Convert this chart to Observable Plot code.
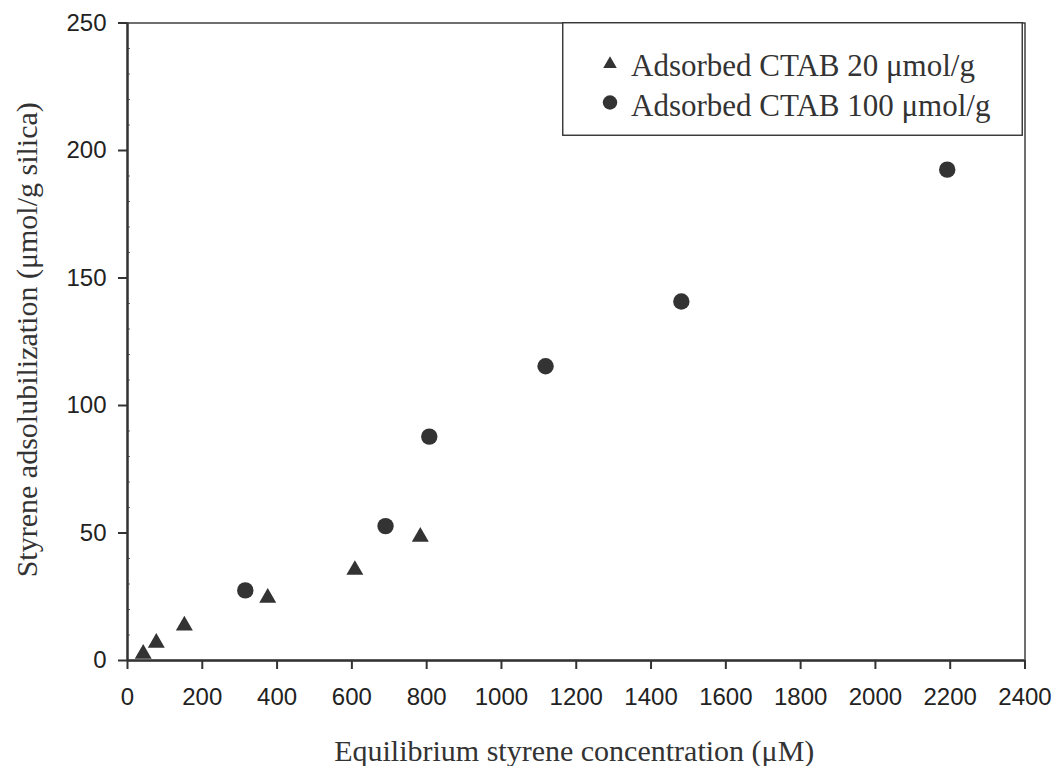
<!DOCTYPE html>
<html><head><meta charset="utf-8">
<script src="https://cdn.jsdelivr.net/npm/d3@7"></script>
<script src="https://cdn.jsdelivr.net/npm/@observablehq/plot@0.6"></script>
<style>
html,body{margin:0;padding:0;background:#fff;}
#wrap{position:relative;width:1053px;height:766px;}
#legend{position:absolute;left:562px;top:22px;}
</style></head><body><div id="wrap"></div>
<script>
// ---- data ----
const xTicks = [0, 200, 400, 600, 800, 1000, 1200, 1400, 1600, 1800, 2000, 2200, 2400];
const yTicks = [0, 50, 100, 150, 200, 250];
const yMinor = [10, 20, 30, 40, 60, 70, 80, 90, 110, 120, 130, 140, 160, 170, 180, 190, 210, 220, 230, 240];
const seriesNames = ["Adsorbed CTAB 20 \u03bcmol/g", "Adsorbed CTAB 100 \u03bcmol/g"];
const ctab20X = [42, 77, 152, 375, 608, 783];
const ctab20Y = [2.6, 6.9, 13.7, 24.6, 35.5, 48.5];
const ctab100X = [315, 690, 807, 1118, 1481, 2192];
const ctab100Y = [27.5, 52.7, 87.8, 115.4, 140.8, 192.5];
const xLabel = "Equilibrium styrene concentration (\u03bcM)";
const yLabel = "Styrene adsolubilization (\u03bcmol/g silica)";

const ink = "#333";
const serif = "Liberation Serif, Times New Roman, serif";
const sans = "Liberation Sans, Arial, sans-serif";

const s20 = ctab20X.map((x, i) => ({x, y: ctab20Y[i]}));
const s100 = ctab100X.map((x, i) => ({x, y: ctab100Y[i]}));
const fmt = d3.format("d");

const chart = Plot.plot({
  width: 1053,
  height: 766,
  marginLeft: 127,
  marginRight: 28.5,
  marginTop: 22.5,
  marginBottom: 106,
  style: {fontFamily: sans, fontSize: "24px", color: "#222", background: "#fff"},
  x: {domain: [0, 2400]},
  y: {domain: [0, 250]},
  marks: [
    Plot.frame({stroke: ink, strokeWidth: 1.4}),
    Plot.axisX({ticks: xTicks, tickFormat: fmt, tickSize: 9, tickPadding: 18, strokeWidth: 2, stroke: ink, label: null, fill: "#222", fontSize: 24, fontFamily: sans}),
    Plot.axisY({ticks: yTicks, tickFormat: fmt, tickSize: 9, tickPadding: 12, strokeWidth: 2, stroke: ink, label: null, fill: "#222", fontSize: 24, fontFamily: sans}),
    Plot.axisY({ticks: yMinor, tickSize: 3, dx: 3, tickFormat: () => "", strokeWidth: 1, stroke: "#666", label: null}),
    Plot.ruleX([0], {stroke: ink, strokeWidth: 2.4}),
    Plot.ruleY([0], {stroke: ink, strokeWidth: 2.4}),
    Plot.dot(s20, {x: "x", y: "y", symbol: "triangle", r: 6.3, fill: ink, stroke: "none"}),
    Plot.dot(s100, {x: "x", y: "y", symbol: "circle", r: 8.2, fill: ink, stroke: "none"}),
    Plot.text([xLabel], {text: d => d, frameAnchor: "bottom", textAnchor: "middle", dy: 91, dx: -2, lineAnchor: "middle", fontFamily: serif, fontSize: 30, fill: ink}),
    Plot.text([yLabel], {text: d => d, frameAnchor: "left", textAnchor: "middle", rotate: -90, dx: -100, dy: -2, lineAnchor: "middle", fontFamily: serif, fontSize: 30, fill: ink})
  ]
});
document.getElementById("wrap").appendChild(chart);

// ---- legend (overlay inside plot area, top-right) ----
const lw = 461, lh = 114;
const leg = d3.select("#wrap").append("svg")
  .attr("id", "legend").attr("width", lw).attr("height", lh);
leg.append("rect").attr("x", 0.75).attr("y", 0.75).attr("width", lw - 1.5).attr("height", lh - 1.5)
  .attr("fill", "#fff").attr("stroke", ink).attr("stroke-width", 1.4);
const symbols = [d3.symbolTriangle, d3.symbolCircle];
const symSizes = [80, 165];
const rowY = [40.5, 80.5];
seriesNames.forEach((name, i) => {
  leg.append("path").attr("d", d3.symbol(symbols[i], symSizes[i])())
    .attr("transform", `translate(48,${rowY[i] + (i === 0 ? 1.5 : 0)})`).attr("fill", ink);
  leg.append("text").attr("x", 69).attr("y", rowY[i] + 13.5)
    .attr("font-family", serif).attr("font-size", 31).attr("fill", ink).text(name);
});
</script>
</body></html>
